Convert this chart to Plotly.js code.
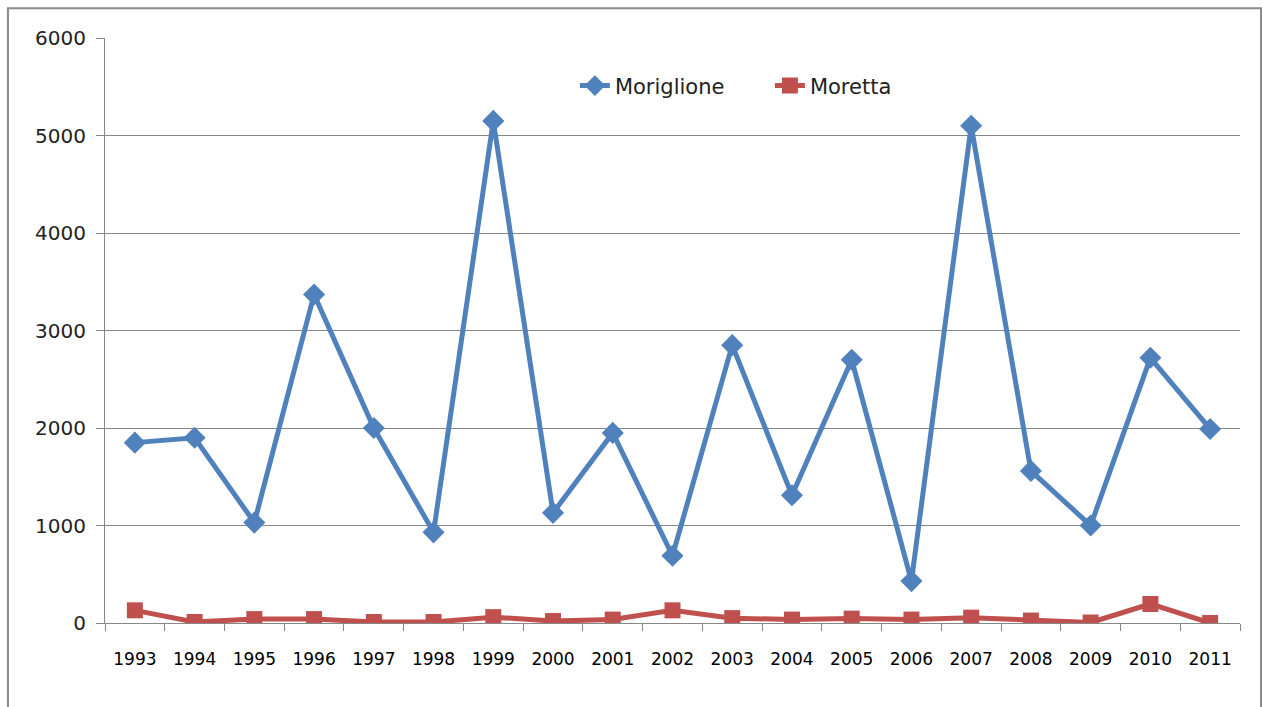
<!DOCTYPE html>
<html>
<head>
<meta charset="utf-8">
<script src="https://cdn.plot.ly/plotly-3.0.1.min.js"></script>
<style>html,body{margin:0;padding:0;background:#fff;}#chart{width:1263px;height:707px;}</style>
</head>
<body>
<div id="chart"></div>
<script>
const years = ["1993","1994","1995","1996","1997","1998","1999","2000","2001","2002","2003","2004","2005","2006","2007","2008","2009","2010","2011"];
const moriglione = [1850,1900,1030,3370,2000,930,5150,1130,1950,690,2850,1310,2700,430,5100,1560,1000,2720,1990];
const moretta = [130,10,40,40,10,10,60,20,35,130,50,35,45,35,55,25,5,195,0];
const yTicks = [0,1000,2000,3000,4000,5000,6000];

const traces = [
  {x: years, y: moriglione, name: "Moriglione", type: "scatter", mode: "lines+markers",
   line: {color: "#4F81BD", width: 5}, marker: {symbol: "diamond", size: 17, color: "#4F81BD"}},
  {x: years, y: moretta, name: "Moretta", type: "scatter", mode: "lines+markers",
   line: {color: "#C0504D", width: 5}, marker: {symbol: "square", size: 16, color: "#C0504D"}}
];

const layout = {
  width: 1263, height: 707,
  margin: {l: 105, r: 23, t: 38, b: 84},
  paper_bgcolor: "#ffffff", plot_bgcolor: "#ffffff",
  font: {family: "DejaVu Sans, Verdana, sans-serif", color: "#000"},
  showlegend: true,
  legend: {orientation: "h", x: 0.414, xanchor: "left", y: 0.918, yanchor: "middle", entrywidth: 150,
           font: {size: 21, family: "DejaVu Sans", color: "#222"}, bgcolor: "rgba(0,0,0,0)"},
  xaxis: {type: "category", range: [-0.5, 18.5], showgrid: false, showline: true, linecolor: "#878787", linewidth: 1,
          ticks: "outside", tickson: "boundaries", ticklen: 7, tickcolor: "#878787",
          tickfont: {size: 17, family: "DejaVu Sans", color: "#000"}, zeroline: false, ticklabelstandoff: 21},
  yaxis: {range: [0, 6000], tickvals: yTicks, showgrid: true, gridcolor: "#878787", gridwidth: 1,
          showline: true, linecolor: "#878787", ticks: "outside", ticklen: 8, tickcolor: "#878787",
          tickfont: {size: 20, family: "DejaVu Sans", color: "#222"}, zeroline: false, ticklabelstandoff: 6},
  shapes: [
    {type: "rect", xref: "paper", yref: "paper", x0: -0.0855, x1: 1.0185, y0: -0.16, y1: 1.051,
     line: {color: "#8a8a8a", width: 2}, fillcolor: "rgba(0,0,0,0)", layer: "below"}
  ]
};

Plotly.newPlot("chart", traces, layout, {displayModeBar: false, staticPlot: true});
</script>
</body>
</html>
